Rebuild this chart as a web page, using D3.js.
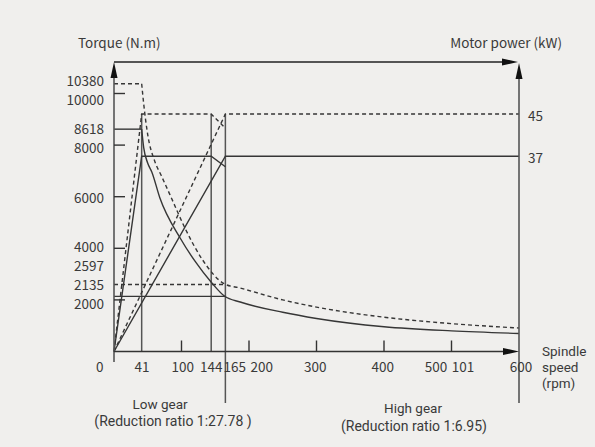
<!DOCTYPE html>
<html><head><meta charset="utf-8">
<script src="https://cdn.jsdelivr.net/npm/d3@7"></script>
<style>
html,body{margin:0;padding:0;background:#fff;}
svg{display:block;}
text{font-family:"Noto Sans CJK SC","Noto Sans",sans-serif;fill:#3a3a3a;}
text.ml{font-family:Roboto,"Noto Sans",sans-serif;}
</style></head>
<body>
<svg id="c" width="595" height="447"></svg>
<script>
// ---- data ----
const xTickValues = [100, 200, 300, 400, 500];
const xTickLabels = ["0", "41", "100", "144", "165", "200", "300", "400", "500", "101", "600"];
const xTickLabelAt = [-21, 41.5, 102, 144, 179, 219, 298, 398, 477, 517, 603];

const yTickValues = [2000, 4000, 6000, 8000, 10000];
const yTickLabels = ["10380", "10000", "8618", "8000", "6000", "4000", "2597", "2135", "2000"];
const yTickLabelAt = [10480, 9750, 8620, 7890, 5950, 4040, 3300, 2580, 1820];

const powerTickValues = [45, 37];
const powerTickLabels = ["45", "37"];

// torque curves (rpm, N.m)
const peakTorqueRpm = [41, 44, 50, 60, 70, 83, 105, 130, 164, 187, 250, 300, 400, 500, 600];
const peakTorqueVal = [10380, 9600, 8400, 7400, 6820, 6070, 4790, 3600, 2616, 2460, 2000, 1720, 1330, 1080, 910];
const ratedTorqueRpm = [41, 44, 50, 56, 68, 98, 120, 145, 164, 187, 250, 300, 400, 500, 600];
const ratedTorqueVal = [8618, 7900, 7300, 6960, 5950, 4400, 3500, 2655, 2140, 1918, 1520, 1280, 960, 800, 700];

// constant-torque segments (rpm, N.m)
const lowPeakTorque = [[0, 10380], [41, 10380]];
const lowRatedTorque = [[0, 8618], [41, 8618]];
const highPeakTorque = [[0, 2597], [165, 2597]];
const highRatedTorque = [[0, 2135], [165, 2135]];

// power lines (rpm, kW)
const lowPeakPower = [[0, 0], [41, 45], [144, 45], [165, 42.3]];
const lowRatedPower = [[0, 0], [41, 37], [144, 37], [165, 35]];
const highPeakPower = [[0, 0], [165, 45], [600, 45]];
const highRatedPower = [[0, 0], [165, 37], [600, 37]];

// vertical guides at rpm
const guideRpm = [41, 144, 165];

const xAxisTitle = ["Spindle", "speed", "(rpm)"];
const lowGearText = ["Low gear", "(Reduction ratio 1:27.78 )"];
const highGearText = ["High gear", "(Reduction ratio 1:6.95)"];

// ---- scales ----
const svg = d3.select("#c");
svg.append("rect").attr("x", 0).attr("y", 0).attr("width", 595).attr("height", 447).attr("fill", "#f0efed");

const x = d3.scaleLinear().domain([0, 600]).range([114, 519]);
const yT = d3.scaleLinear().domain([0, 10000]).range([351.5, 93.5]);
const yP = d3.scaleLinear().domain([0, 45]).range([351.5, 114]);

const ink = "#363636";
const dash = "4,3";

const lineT = d3.line().x(d => x(d[0])).y(d => yT(d[1]));
const lineP = d3.line().x(d => x(d[0])).y(d => yP(d[1]));
const curveT = d3.line().x(d => x(d[0])).y(d => yT(d[1])).curve(d3.curveMonotoneX);

function drawPath(g, d, gen, dashed, w) {
  g.append("path").attr("d", gen(d)).attr("fill", "none")
    .attr("stroke", ink).attr("stroke-width", w || 1.4)
    .attr("stroke-dasharray", dashed ? dash : null);
}

const g = svg.append("g");

guideRpm.forEach((r, i) => {
  const bottom = r === 165 ? 403 : yP(0);
  g.append("line").attr("x1", x(r)).attr("x2", x(r)).attr("y1", yP(45)).attr("y2", bottom)
    .attr("stroke", "#555").attr("stroke-width", 1.5);
});

drawPath(g, lowPeakTorque, lineT, true);
drawPath(g, lowRatedTorque, lineT, false);
drawPath(g, highPeakTorque, lineT, true);
drawPath(g, highRatedTorque, lineT, false);

drawPath(g, d3.zip(peakTorqueRpm, peakTorqueVal), curveT, true);
drawPath(g, d3.zip(ratedTorqueRpm, ratedTorqueVal), curveT, false);

drawPath(g, lowPeakPower, lineP, true);
drawPath(g, lowRatedPower, lineP, false);
drawPath(g, highPeakPower, lineP, true);
drawPath(g, highRatedPower, lineP, false);

// ---- axes ----
const topY = 62;
const axisW = 1.6;
g.append("line").attr("x1", x(0)).attr("x2", x(0)).attr("y1", topY + 12).attr("y2", 362)
  .attr("stroke", "#555").attr("stroke-width", axisW);
g.append("line").attr("x1", x(600)).attr("x2", x(600)).attr("y1", topY + 12).attr("y2", 403)
  .attr("stroke", "#555").attr("stroke-width", axisW);
g.append("line").attr("x1", x(0)).attr("x2", x(600) - 12).attr("y1", topY).attr("y2", topY)
  .attr("stroke", "#222").attr("stroke-width", axisW);
g.append("line").attr("x1", x(0)).attr("x2", x(600) - 12).attr("y1", yT(0)).attr("y2", yT(0))
  .attr("stroke", "#333").attr("stroke-width", axisW);

function arrow(px, py, dir) {
  let pts;
  if (dir === "up") pts = [[px, py], [px - 3.5, py + 16], [px + 3.5, py + 16]];
  else pts = [[px, py], [px - 16, py - 3.5], [px - 16, py + 3.5]];
  g.append("polygon").attr("points", pts.map(p => p.join(",")).join(" ")).attr("fill", "#111");
}
arrow(x(0), topY, "up");
arrow(x(600), topY + 1, "up");
arrow(x(600) - 1, topY, "right");
arrow(x(600), yT(0), "right");

xTickValues.forEach(v => {
  g.append("line").attr("x1", x(v)).attr("x2", x(v)).attr("y1", yT(0)).attr("y2", yT(0) - 11)
    .attr("stroke", "#333").attr("stroke-width", 1.4);
});
yTickValues.forEach(v => {
  g.append("line").attr("x1", x(0)).attr("x2", x(0) + 11).attr("y1", yT(v)).attr("y2", yT(v))
    .attr("stroke", "#333").attr("stroke-width", 1.4);
});

const fs = 13.5;
xTickLabels.forEach((t, i) => {
  g.append("text").attr("x", x(xTickLabelAt[i])).attr("y", 371.5).attr("text-anchor", "middle")
    .attr("font-size", fs).text(t);
});
yTickLabels.forEach((t, i) => {
  g.append("text").attr("x", 104).attr("y", yT(yTickLabelAt[i])).attr("dy", "0.35em")
    .attr("text-anchor", "end").attr("font-size", fs).text(t);
});
powerTickLabels.forEach((t, i) => {
  g.append("text").attr("x", 528).attr("y", yP(powerTickValues[i]) + 2).attr("dy", "0.35em")
    .attr("font-size", fs).text(t);
});

g.append("text").attr("x", 78).attr("y", 48).attr("font-size", fs).text("Torque (N.m)");
g.append("text").attr("x", 562).attr("y", 48).attr("text-anchor", "end").attr("font-size", fs).text("Motor power (kW)");

function multiline(lines, xs, py, lh, anchor, sizes) {
  const t = g.append("text").attr("class", "ml").attr("x", xs[0]).attr("y", py).attr("text-anchor", anchor);
  lines.forEach((s, i) => {
    t.append("tspan").attr("x", xs[i]).attr("dy", i === 0 ? 0 : lh)
      .attr("font-size", sizes[i]).text(s);
  });
}
multiline(xAxisTitle, [542, 542, 542], 356, 16, "start", [13.5, 13.5, 13.5]);
multiline(lowGearText, [160, 173], 409, 16.5, "middle", [13.5, 14]);
multiline(highGearText, [413, 414], 413, 18, "middle", [13.5, 14]);
</script>
</body></html>
